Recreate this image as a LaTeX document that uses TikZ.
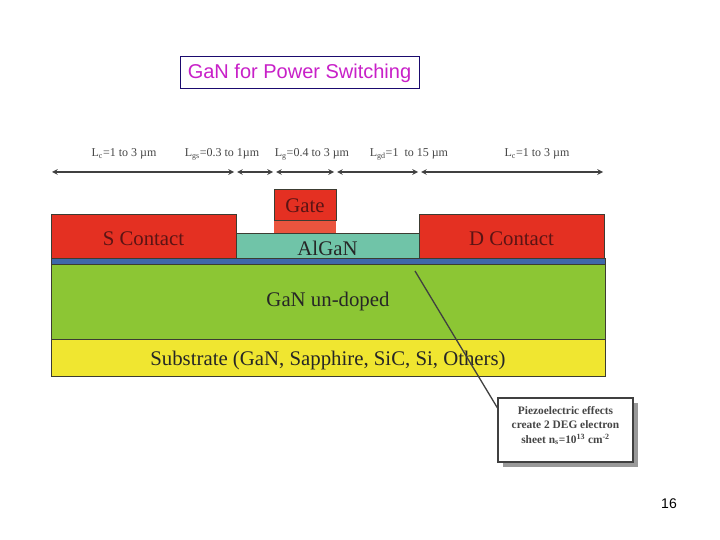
\documentclass[tikz,border=0pt]{standalone}
\usepackage{fontspec}
\setmainfont{Liberation Serif}
\newfontfamily\arialfont{Liberation Sans}
\usetikzlibrary{shadows}
\definecolor{contactred}{RGB}{228,48,34}
\definecolor{footred}{RGB}{234,84,62}
\definecolor{algangreen}{RGB}{112,196,168}
\definecolor{sheetblue}{RGB}{62,104,170}
\definecolor{ganlime}{RGB}{140,198,52}
\definecolor{subyellow}{RGB}{240,230,48}
\definecolor{titlepink}{RGB}{200,32,200}
\definecolor{titlenavy}{RGB}{26,10,110}
\definecolor{edgegray}{RGB}{60,60,50}
\definecolor{labelgray}{RGB}{70,70,70}
\definecolor{contactink}{RGB}{90,20,20}
\tikzset{
  layerbox/.style={draw=edgegray, line width=1pt, inner sep=0pt, outer sep=0pt, text=black!85,
    font=\fontsize{20.8}{22}\selectfont},
  baseoff/.style={text depth=0pt, text height=#1},
  dimlabel/.style={inner sep=0pt, anchor=base, text=labelgray, font=\fontsize{12}{14}\selectfont},
  dimarrow/.style={<->, >=stealth, line width=1.5pt, color=black!75},
}
\begin{document}
\begin{tikzpicture}[x=1pt, y=-1pt]
\useasboundingbox[fill=white] (0,0) rectangle (720,540);
% title
\node[draw=titlenavy, line width=1pt, minimum width=239pt, minimum height=32pt, inner sep=0pt, text=titlepink, baseoff=13pt,
  font=\arialfont\fontsize{20}{22}\selectfont] (title) at (299.5,72.5) {GaN for Power Switching};
% dimension labels
\node[dimlabel] (lcleft) at (124,157) {L\textsubscript{c}=1 to 3 µm};
\node[dimlabel] (lgs) at (222,157) {L\textsubscript{gs}=0.3 to 1µm};
\node[dimlabel] (lg) at (312,157) {L\textsubscript{g}=0.4 to 3 µm};
\node[dimlabel] (lgd) at (409,157) {L\textsubscript{gd}=1\ \ to 15 µm};
\node[dimlabel] (lcright) at (537,157) {L\textsubscript{c}=1 to 3 µm};
\coordinate (a0) at (52,172);
\coordinate (a1) at (234,172);
\coordinate (b0) at (237,172);
\coordinate (b1) at (273,172);
\coordinate (c0) at (276,172);
\coordinate (c1) at (334,172);
\coordinate (d0) at (337,172);
\coordinate (d1) at (418,172);
\coordinate (e0) at (421,172);
\coordinate (e1) at (603,172);
\draw[dimarrow] (a0) -- (a1);
\draw[dimarrow] (b0) -- (b1);
\draw[dimarrow] (c0) -- (c1);
\draw[dimarrow] (d0) -- (d1);
\draw[dimarrow] (e0) -- (e1);
% device layers
\node[fill=footred, minimum width=62pt, minimum height=12pt, inner sep=0pt] (gatefoot) at (305,227) {};
\node[layerbox, fill=contactred, text=contactink, baseoff=15pt, minimum width=62pt, minimum height=31pt] (gate) at (305,205.5) {Gate};
\node[layerbox, fill=algangreen, baseoff=19pt, minimum width=183pt, minimum height=25pt] (algan) at (327.5,245.5) {AlGaN};
\node[layerbox, fill=contactred, text=contactink, baseoff=17pt, minimum width=185pt, minimum height=43pt] (scontact) at (143.5,236.5) {S Contact};
\node[layerbox, fill=contactred, text=contactink, baseoff=17pt, minimum width=185pt, minimum height=43pt] (dcontact) at (511.5,236.5) {D Contact};
\node[layerbox, fill=sheetblue, minimum width=554pt, minimum height=6pt] (sheet) at (328,261) {};
\node[layerbox, fill=ganlime, baseoff=10pt, minimum width=554pt, minimum height=75pt] (gan) at (328,301.5) {GaN un-doped};
\node[layerbox, fill=subyellow, baseoff=15pt, minimum width=554pt, minimum height=37pt] (substrate) at (328,357.5) {Substrate (GaN, Sapphire, SiC, Si, Others)};
% callout
\node[draw=black!75, line width=1.2pt, fill=white, minimum width=135pt, minimum height=64pt, inner sep=0pt, align=center,
  text=labelgray, font=\bfseries\fontsize{11.4}{14.5}\selectfont,
  drop shadow={shadow xshift=5pt, shadow yshift=-5pt, fill=gray, opacity=0.8}] (note) at (565.5,430)
  {Piezoelectric effects\\create 2 DEG electron\\sheet n\textsubscript{s}=10\textsuperscript{13} cm\textsuperscript{-2}\\[-4pt]\mbox{}};
\coordinate (sheettip) at (415,271);
\draw[line width=1.3pt, color=black!75] (sheettip) -- (note.162);
% page number
\node[inner sep=0pt, font=\arialfont\fontsize{14}{16}\selectfont] (pagenum) at (669,504) {16};
\end{tikzpicture}
\end{document}
